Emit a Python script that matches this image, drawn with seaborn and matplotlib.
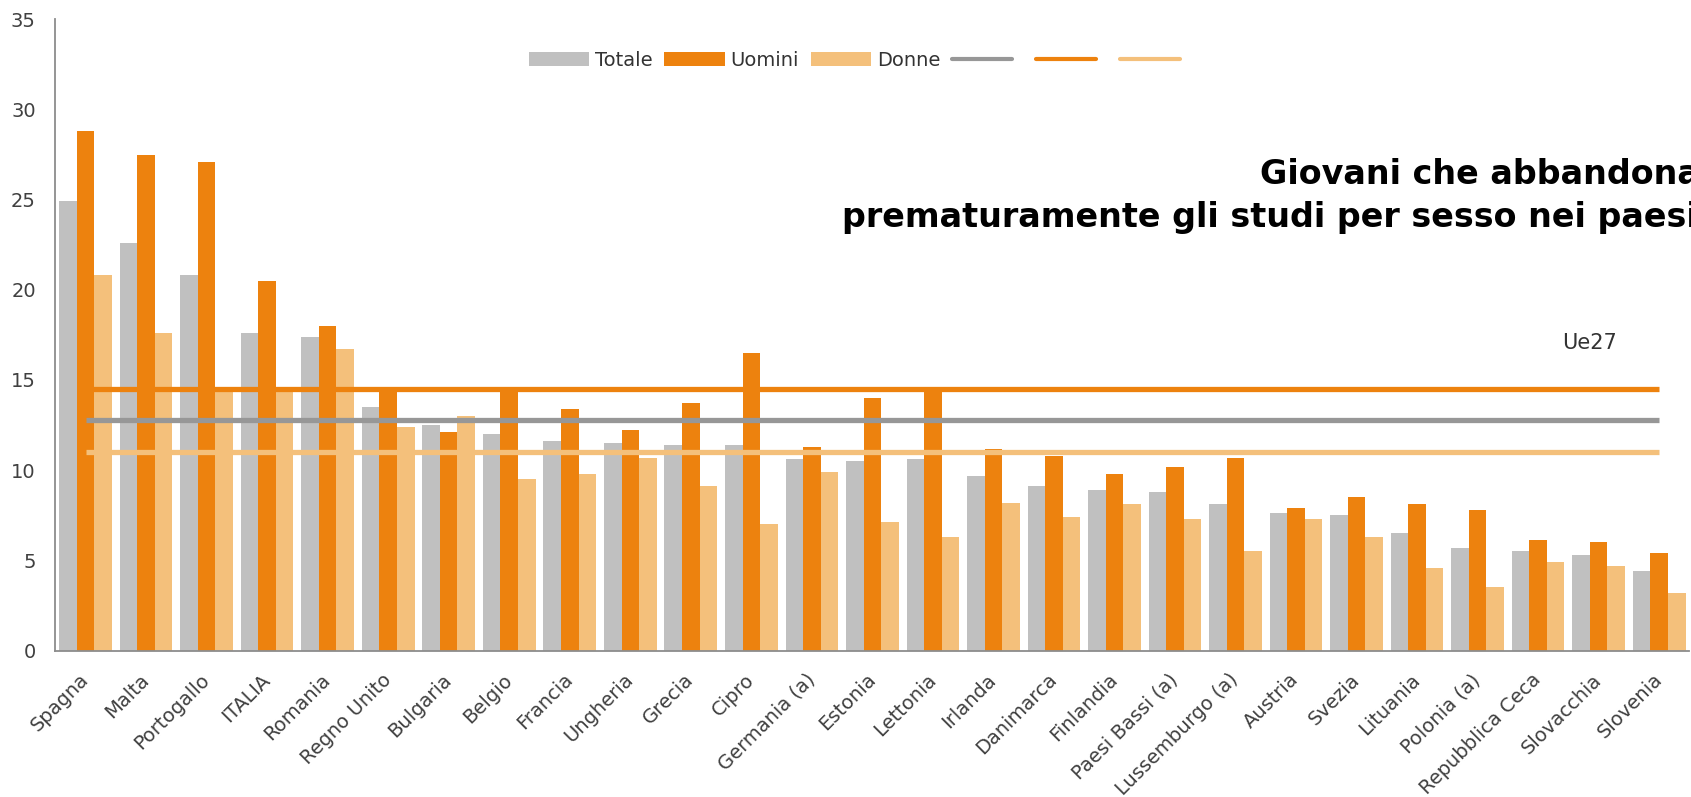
import numpy as np
import pandas as pd
import matplotlib
matplotlib.use('Agg')
import matplotlib.pyplot as plt
import seaborn as sns
from matplotlib.patches import Patch
from matplotlib.lines import Line2D

# dati (valori percentuali)
paesi = ['Spagna', 'Malta', 'Portogallo', 'ITALIA', 'Romania', 'Regno Unito',
         'Bulgaria', 'Belgio', 'Francia', 'Ungheria', 'Grecia', 'Cipro',
         'Germania (a)', 'Estonia', 'Lettonia', 'Irlanda', 'Danimarca',
         'Finlandia', 'Paesi Bassi (a)', 'Lussemburgo (a)', 'Austria', 'Svezia',
         'Lituania', 'Polonia (a)', 'Repubblica Ceca', 'Slovacchia', 'Slovenia']
totale = [24.9, 22.6, 20.8, 17.6, 17.4, 13.5, 12.5, 12.0, 11.6, 11.5, 11.4, 11.4,
          10.6, 10.5, 10.6, 9.7, 9.1, 8.9, 8.8, 8.1, 7.6, 7.5, 6.5, 5.7, 5.5, 5.3, 4.4]
uomini = [28.8, 27.5, 27.1, 20.5, 18.0, 14.5, 12.1, 14.5, 13.4, 12.2, 13.7, 16.5,
          11.3, 14.0, 14.5, 11.2, 10.8, 9.8, 10.2, 10.7, 7.9, 8.5, 8.1, 7.8, 6.1, 6.0, 5.4]
donne = [20.8, 17.6, 14.4, 14.5, 16.7, 12.4, 13.0, 9.5, 9.8, 10.7, 9.1, 7.0,
         9.9, 7.1, 6.3, 8.2, 7.4, 8.1, 7.3, 5.5, 7.3, 6.3, 4.6, 3.5, 4.9, 4.7, 3.2]

# media Ue27
ue27 = {'Totale': 12.8, 'Uomini': 14.5, 'Donne': 11.0}

serie = ['Totale', 'Uomini', 'Donne']
colori = {'Totale': '#c0c0c0', 'Uomini': '#ed820e', 'Donne': '#f4c07b'}
colori_linee = {'Totale': '#979797', 'Uomini': '#ed820e', 'Donne': '#f4c07b'}

df = pd.DataFrame({
    'paese': paesi * 3,
    'sesso': ['Totale'] * len(paesi) + ['Uomini'] * len(paesi) + ['Donne'] * len(paesi),
    'valore': totale + uomini + donne,
})

sns.set_style('white')
plt.rcParams['font.family'] = ['DejaVu Sans']

fig = plt.figure(figsize=(16.91, 7.97), dpi=100)
ax = fig.add_axes([0.0327, 0.1838, 0.9664, 0.792])

sns.barplot(data=df, x='paese', y='valore', hue='sesso', order=paesi,
            hue_order=serie, palette=colori, width=0.87, saturation=1,
            errorbar=None, legend=False, linewidth=0, ax=ax)

# linee della media Ue27 dal primo all'ultimo paese
for s in serie:
    ax.hlines(ue27[s], 0, len(paesi) - 1, color=colori_linee[s], linewidth=3.8, zorder=5)

ax.text(24.4, 16.7, 'Ue27', fontsize=15, color='#333333', va='baseline')

ax.set_xlim(-0.5, len(paesi) - 0.5)
ax.set_ylim(0, 35)
ax.set_yticks(np.arange(0, 36, 5))
ax.set_xlabel('')
ax.set_ylabel('')

for side in ['top', 'right']:
    ax.spines[side].set_visible(False)
for side in ['left', 'bottom']:
    ax.spines[side].set_color('#8c8c8c')
    ax.spines[side].set_linewidth(1.3)

ax.tick_params(axis='y', length=8, width=1.1, color='#555555', pad=6,
               labelsize=14, labelcolor='#404040')
ax.tick_params(axis='x', which='major', length=0, pad=19, labelsize=14, labelcolor='#404040')
ax.set_xticks(np.arange(len(paesi) + 1) - 0.5, minor=True)
ax.tick_params(axis='x', which='minor', length=8, width=1.1, color='#555555')
plt.setp(ax.get_xticklabels(), rotation=45, ha='right', va='center', rotation_mode='anchor')

handles = [Patch(facecolor=colori[s], edgecolor='none') for s in serie]
handles += [Line2D([], [], color=colori_linee[s], linewidth=3) for s in serie]
labels = serie + [' ', ' ', ' ']
fig.legend(handles, labels, loc='center left', bbox_to_anchor=(0.3025, 0.9247),
           ncol=6, frameon=False, fontsize=14, handlelength=3.1, handleheight=0.7,
           handletextpad=0.3, columnspacing=0.6, labelcolor='#333333')

# titolo (nel grafico originale esce dal bordo destro)
fig.text(0.7451, 0.7691, 'Giovani che abbandonano', fontsize=24,
         fontweight='bold', color='black', va='baseline', ha='left')
fig.text(0.4979, 0.7152, 'prematuramente gli studi per sesso nei paesi Ue27', fontsize=24,
         fontweight='bold', color='black', va='baseline', ha='left')

fig.savefig('out.png', dpi=100)
